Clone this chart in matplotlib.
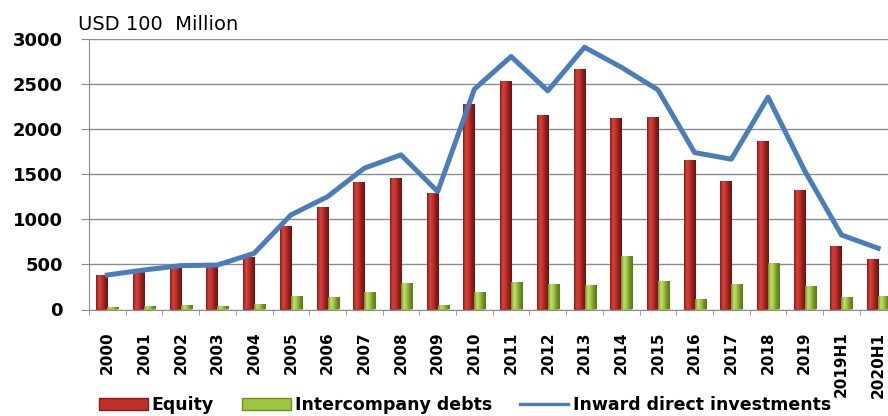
import numpy as np
import matplotlib
matplotlib.use('Agg')
from matplotlib import pyplot as plt
from matplotlib.colors import LinearSegmentedColormap
from matplotlib.patches import Patch
from matplotlib.lines import Line2D

# periods on the x axis
periods = ['2000', '2001', '2002', '2003', '2004', '2005', '2006', '2007', '2008', '2009',
           '2010', '2011', '2012', '2013', '2014', '2015', '2016', '2017', '2018', '2019',
           '2019H1', '2020H1']

# USD 100 million
equity = [372, 413, 458, 464, 572, 920, 1124, 1402, 1447, 1280,
          2272, 2524, 2150, 2661, 2113, 2131, 1650, 1413, 1858, 1317,
          698, 550]
debts = [20, 30, 40, 25, 55, 134, 130, 182, 287, 40,
         187, 298, 268, 265, 578, 305, 100, 268, 510, 250,
         126, 137]
inward = [383, 439, 487, 494, 624, 1050, 1253, 1569, 1717, 1309,
          2447, 2809, 2428, 2912, 2690, 2439, 1742, 1669, 2358, 1540,
          828, 680]

plt.rcParams['font.family'] = ['DejaVu Sans']

x = np.arange(len(periods))
bar_w = 0.3

# colour ramps used to shade the bars like cylinders
red_cmap = LinearSegmentedColormap.from_list('red_shade', ['#8a1a17', '#d6443c', '#c0302a', '#8f1d1a', '#6e1210'])
green_cmap = LinearSegmentedColormap.from_list('green_shade', ['#6e8f22', '#c3df76', '#9cc63f', '#6f9325', '#587a19'])
ramp = np.linspace(0, 1, 64).reshape(1, -1)

fig = plt.figure(figsize=(8.88, 4.16), dpi=100)
ax = fig.add_axes([89 / 888, 1 - 309.5 / 416, 807.5 / 888, 270.2 / 416])

eq_bars = ax.bar(x - bar_w / 2, equity, width=bar_w, color='#c0302a', zorder=2)
db_bars = ax.bar(x + bar_w / 2, debts, width=bar_w, color='#9cc63f', zorder=2)

# shaded overlay on every bar
for bars, cmap in [(eq_bars, red_cmap), (db_bars, green_cmap)]:
    for b in bars:
        ax.imshow(ramp, cmap=cmap, aspect='auto', zorder=2.1,
                  extent=(b.get_x(), b.get_x() + b.get_width(), 0, b.get_height()))

ax.plot(x, inward, color='#4a7ebb', lw=3.6, zorder=3, solid_joinstyle='round')

ax.set_xlim(-0.5, len(periods) - 0.5)
ax.set_ylim(0, 3000)
ax.set_yticks(np.arange(0, 3001, 500))
ax.yaxis.grid(True, color='#8c8c8c', lw=1.0)
ax.set_axisbelow(True)

for s in ['top', 'right']:
    ax.spines[s].set_visible(False)
ax.spines['left'].set_color('#8c8c8c')
ax.spines['bottom'].set_color('#8c8c8c')

ax.set_xticks(x)
ax.set_xticklabels(periods, rotation=90, fontsize=11, fontweight='bold', va='top')
ax.set_xticks(np.arange(-0.5, len(periods), 1), minor=True)
ax.tick_params(axis='x', which='major', length=0, pad=16)
ax.tick_params(axis='x', which='minor', length=3.6, color='#8c8c8c', direction='out')
ax.tick_params(axis='y', length=5.8, color='#8c8c8c', pad=13, labelsize=13)
for lab in ax.get_yticklabels():
    lab.set_fontweight('bold')

fig.text(78 / 888, 1 - 30 / 416, 'USD 100  Million', fontsize=14, va='baseline', ha='left')

handles = [Patch(facecolor='#c0302a', edgecolor='#8a1a17'),
           Patch(facecolor='#9cc63f', edgecolor='#6e8f22'),
           Line2D([0], [0], color='#4a7ebb', lw=2.4)]
fig.legend(handles, ['Equity', 'Intercompany debts', 'Inward direct investments'],
           loc='center', bbox_to_anchor=(465 / 888, 1 - 405 / 416), ncol=3, frameon=False,
           prop={'size': 12.5, 'weight': 'bold'}, handlelength=2.8, handleheight=0.7,
           handletextpad=0.25, columnspacing=1.6, borderaxespad=0, borderpad=0)

plt.savefig('out.png', dpi=100)
